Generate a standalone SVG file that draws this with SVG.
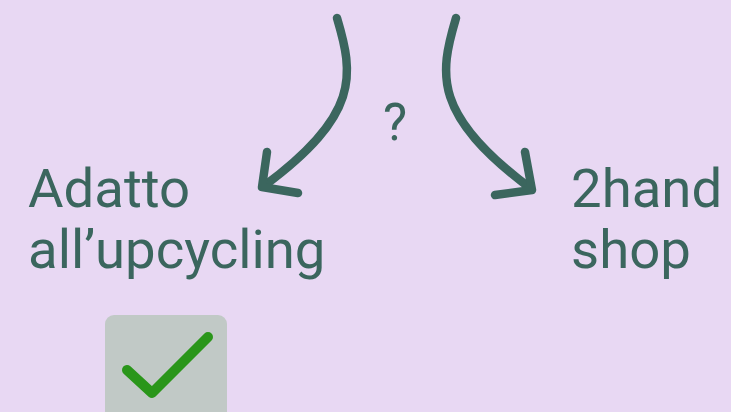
<svg xmlns="http://www.w3.org/2000/svg" width="731" height="412" viewBox="0 0 731 412">
<style>
.lbl{font-family:Roboto,"Liberation Sans",sans-serif;font-size:54.5px;fill:#3b665e}
.arr{fill:none;stroke:#3b665e;stroke-width:8.5;stroke-linecap:round;stroke-linejoin:round}
</style>
<rect width="731" height="412" fill="#e8d8f3"/>
<g id="connectors">
<path class="arr" d="M337,18 C354,75 360,115 264,186"/>
<path class="arr" d="M267,152 L262,187 L298,193"/>
<path class="arr" d="M456,18 C439,75 433,115 530,188"/>
<path class="arr" d="M525,152 L532,190 L495,195"/>
</g>
<g id="question">
<text x="395" y="140" text-anchor="middle" style="font-family:Roboto,'Liberation Sans',sans-serif;font-size:51px;fill:#3b665e">?</text>
</g>
<g id="node-upcycling">
<text class="lbl" x="28" y="207">Adatto</text>
<text class="lbl" x="28" y="268">all’upcycling</text>
</g>
<g id="node-2hand">
<text class="lbl" x="571" y="207">2hand</text>
<text class="lbl" x="571" y="268">shop</text>
</g>
<g id="check">
<rect x="105" y="315" width="122" height="110" rx="9" fill="#c1c9c6"/>
<path d="M127,370 L152,393 L208,337" fill="none" stroke="#2a961a" stroke-width="10" stroke-linecap="round" stroke-linejoin="round"/>
</g>
</svg>
